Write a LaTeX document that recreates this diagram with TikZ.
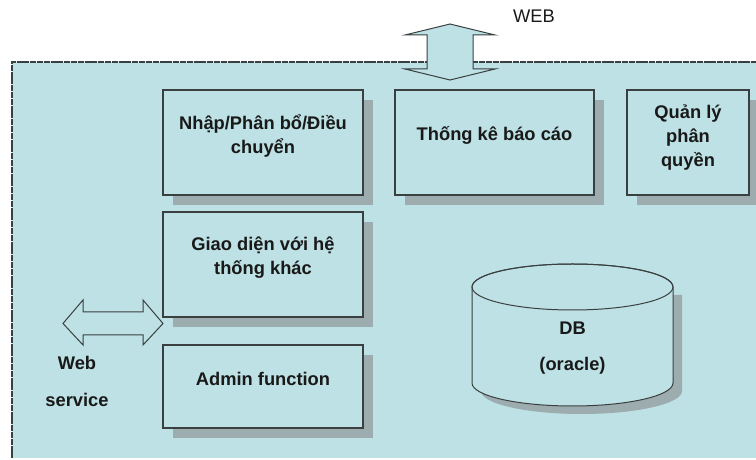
\documentclass[tikz,border=0pt]{standalone}
\usepackage{fontspec}
\setmainfont{Liberation Sans}
\usetikzlibrary{shadows}
\definecolor{bgcyan}{RGB}{189,225,228}
\definecolor{shadowgray}{RGB}{156,172,175}
\definecolor{linegray}{RGB}{58,63,64}
\definecolor{textdark}{RGB}{25,25,25}
\begin{document}
\begin{tikzpicture}[x=1pt,y=1pt,
  box/.style={draw=linegray, line width=1.1pt, fill=bgcyan, rectangle, inner sep=0pt,
    drop shadow={shadow xshift=10pt, shadow yshift=-10pt, fill=shadowgray, opacity=1}},
  txt/.style={font=\fontsize{18.3}{24}\selectfont\bfseries, text=textdark, align=center, inner sep=0pt},
  reg/.style={font=\fontsize{18.3}{24}\selectfont, text=textdark, align=center, inner sep=0pt},
  arrowshape/.style={draw=linegray, line width=1pt, fill=bgcyan, line join=miter}
]
\useasboundingbox (0,0) rectangle (756,460);
\begin{scope}
\clip (0,0) rectangle (756,460);
% outer area
\fill[bgcyan] (12,1.5) rectangle (760,398);
\draw[linegray, line width=1.8pt, dash pattern=on 6pt off 0.8pt] (12,1.5) -- (12,398) -- (760,398);

% boxes
\node[box, minimum width=200pt, minimum height=105pt] (nhap) at (263,317.5) {};
\node[txt] (nhapt) at ([yshift=6pt]nhap.center) {Nhập/Phân bổ/Điều\\chuyển};

\node[box, minimum width=199pt, minimum height=105pt] (thongke) at (494.5,317.5) {};
\node[txt] (thongket) at ([yshift=7pt]thongke.center) {Thống kê báo cáo};

\node[box, minimum width=122pt, minimum height=105pt] (quanly) at (688,317.5) {};
\node[txt] (quanlyt) at ([yshift=5pt]quanly.center) {Quản lý\\phân\\quyền};

\node[box, minimum width=200pt, minimum height=105pt] (giaodien) at (263,195.5) {};
\node[txt] (giaodient) at ([yshift=7pt]giaodien.center) {Giao diện với hệ\\thống khác};

\node[box, minimum width=200pt, minimum height=83pt] (admin) at (263,73.5) {};
\node[txt] (admint) at ([yshift=8pt]admin.center) {Admin function};

% database cylinder
\coordinate (dbc) at (572.5,125);
\fill[shadowgray] (481,165) -- (481,69) arc (180:360:100.5 and 23) -- (682,165) -- cycle;
\filldraw[fill=bgcyan, draw=linegray, line width=1pt]
  (472,173) -- (472,77) arc (180:360:100.5 and 23) -- (673,173) arc (0:180:100.5 and 23) -- cycle;
\draw[linegray, line width=1pt] (572.5,173) ellipse (100.5 and 23);
\node[txt] (dbt) at (572.5,132) {DB};
\node[txt] (oraclet) at (572.5,94) {(oracle)};

% top double arrow (WEB)
\coordinate (webtip) at (450,436);
\filldraw[arrowshape] (webtip) -- (495,425) -- (473,425) -- (473,391) -- (495,391)
  -- (450,380) -- (405,391) -- (427,391) -- (427,425) -- (405,425) -- cycle;
\node[reg] (webtop) at (534,444) {WEB};

% left double arrow (Web service)
\coordinate (wsleft) at (63,136.5);
\filldraw[arrowshape] (wsleft) -- (83,160) -- (83,148) -- (143,148) -- (143,160)
  -- (163,136.5) -- (143,115) -- (143,125) -- (83,125) -- (83,115) -- cycle;
\node[txt] (webt) at (77,97) {Web};
\node[txt] (servicet) at (77,60) {service};
\end{scope}
\end{tikzpicture}
\end{document}
